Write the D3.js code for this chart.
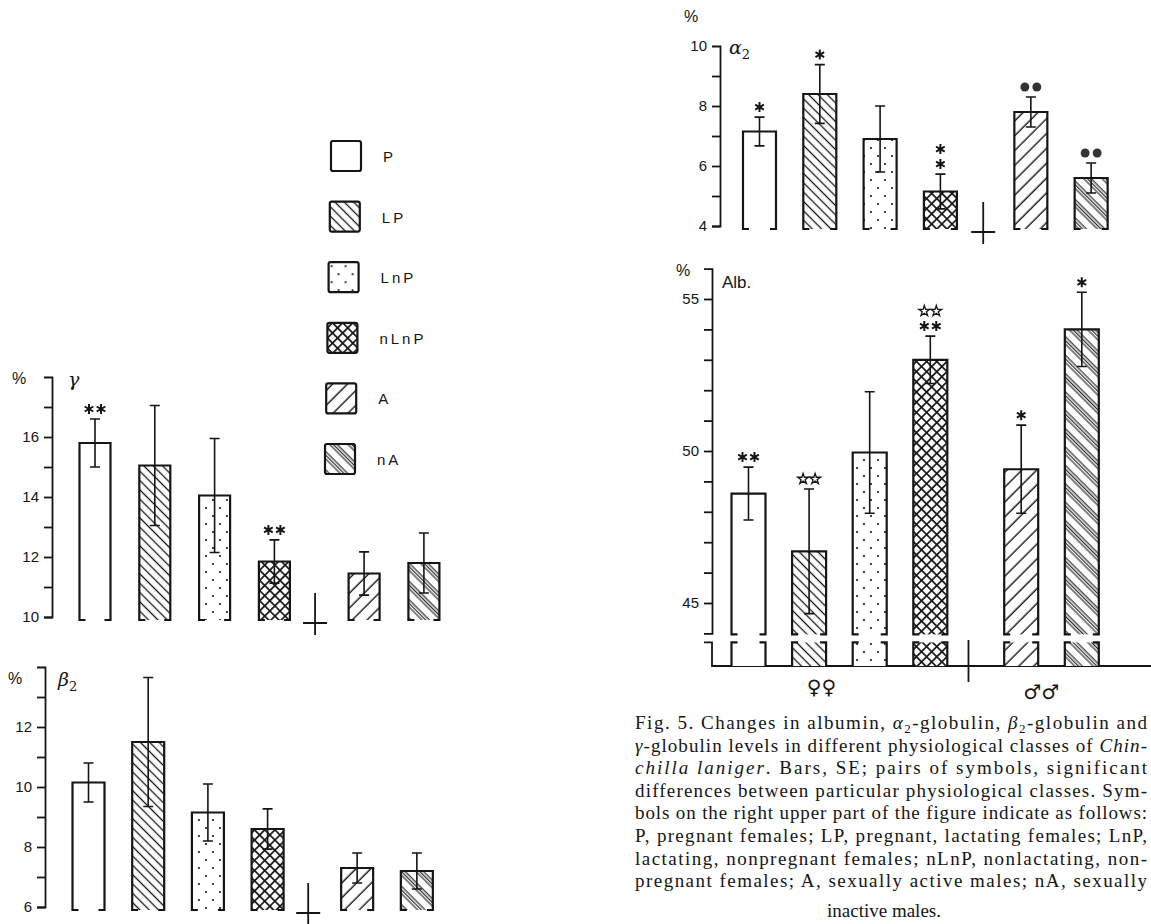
<!DOCTYPE html>
<html>
<head>
<meta charset="utf-8">
<script src="https://cdn.jsdelivr.net/npm/d3@7"></script>
<style>
  html, body { margin: 0; padding: 0; background: #fff; }
  svg { display: block; }
</style>
</head>
<body>
<svg id="fig" width="1151" height="924"></svg>
<script>
/* ---------------------------------------------
 * DATA
 * -------------------------------------------*/
const classes = ['P', 'LP', 'LnP', 'nLnP', 'A', 'nA'];

const gammaMean  = [15.8, 15.05, 14.05, 11.85, 11.45, 11.8];
const gammaSE    = [0.8, 2.0, 1.9, 0.72, 0.72, 1.0];
const gammaSig   = ['**', '', '', '**', '', ''];
const gammaTicks = [10, 12, 14, 16];

const beta2Mean  = [10.15, 11.5, 9.15, 8.6, 7.3, 7.2];
const beta2SE    = [0.65, 2.15, 0.95, 0.67, 0.5, 0.6];
const beta2Sig   = ['', '', '', '', '', ''];
const beta2Ticks = [6, 8, 10, 12];

const alpha2Mean  = [7.15, 8.4, 6.9, 5.15, 7.8, 5.6];
const alpha2SE    = [0.48, 0.98, 1.1, 0.58, 0.5, 0.5];
const alpha2Sig   = ['*', '*', '', '*|*', 'oo', 'oo'];   // '|' = next row up, o = dot
const alpha2Ticks = [4, 6, 8, 10];

const albMean  = [48.6, 46.7, 49.95, 53.0, 49.4, 54.0];
const albSE    = [0.87, 2.05, 2.0, 0.78, 1.45, 1.22];
const albSig   = ['**', 'SS', '', '**|SS', '*', '*'];      // S = open five-point star
const albTicks = [45, 50, 55];

const caption = [
  [['Fig. 5. Changes in albumin, '], ['α', 'i'], ['2', 'sub'], ['-globulin, '], ['β', 'i'], ['2', 'sub'], ['-globulin and']],
  [['γ', 'i'], ['-globulin levels in different physiological classes of '], ['Chin-', 'i']],
  [['chilla laniger', 'i'], ['. Bars, SE; pairs of symbols, significant']],
  [['differences between particular physiological classes. Sym-']],
  [['bols on the right upper part of the figure indicate as follows:']],
  [['P, pregnant females; LP, pregnant, lactating females; LnP,']],
  [['lactating, nonpregnant females; nLnP, nonlactating, non-']],
  [['pregnant females; A, sexually active males; nA, sexually']],
];
const captionLast = 'inactive males.';

/* ---------------------------------------------
 * Setup
 * -------------------------------------------*/
const W = 1151, H = 924;
const INK = '#151515';
const svg = d3.select('#fig');
svg.append('rect').attr('width', W).attr('height', H).attr('fill', '#fff');
const defs = svg.append('defs');

// hatch patterns
function linePattern(id, angle, period, offsets, sw){
  const p = defs.append('pattern').attr('id', id)
    .attr('patternUnits', 'userSpaceOnUse')
    .attr('width', period).attr('height', period)
    .attr('patternTransform', `rotate(${angle})`);
  p.append('rect').attr('width', period).attr('height', period).attr('fill', '#fff');
  offsets.forEach(o => p.append('line')
    .attr('x1', o).attr('x2', o).attr('y1', -1).attr('y2', period + 1)
    .attr('stroke', INK).attr('stroke-width', sw));
}
linePattern('pLP', -45, 6.6, [3.3], 1.3);
linePattern('pA', 45, 10.5, [5], 1.4);
linePattern('pnA', -45, 13, [3, 5.6, 8.2], 1.1);
(function(){
  const p = defs.append('pattern').attr('id', 'pnLnP')
    .attr('patternUnits', 'userSpaceOnUse').attr('width', 7.2).attr('height', 7.2)
    .attr('patternTransform', 'rotate(45)');
  p.append('rect').attr('width', 7.2).attr('height', 7.2).attr('fill', '#fff');
  p.append('line').attr('x1', 3.6).attr('x2', 3.6).attr('y1', -1).attr('y2', 8.2).attr('stroke', INK).attr('stroke-width', 1.7);
  p.append('line').attr('y1', 3.6).attr('y2', 3.6).attr('x1', -1).attr('x2', 8.2).attr('stroke', INK).attr('stroke-width', 1.7);
  const d = defs.append('pattern').attr('id', 'pLnP')
    .attr('patternUnits', 'userSpaceOnUse').attr('width', 14).attr('height', 16);
  d.append('rect').attr('width', 14).attr('height', 16).attr('fill', '#fff');
  [[3, 4], [10, 12]].forEach(c => d.append('circle').attr('cx', c[0]).attr('cy', c[1]).attr('r', 1.1).attr('fill', INK));
})();
const fillOf = d3.scaleOrdinal()
  .domain(classes)
  .range(['#fff', 'url(#pLP)', 'url(#pLnP)', 'url(#pnLnP)', 'url(#pA)', 'url(#pnA)']);

/* ---------------------------------------------
 * Panels (layout only)
 * -------------------------------------------*/
const panels = [
  { mean: gammaMean, se: gammaSE, sig: gammaSig, labels: gammaTicks, domain: [10, 18],
    axisX: 52, range: [617, 377], x0: 95, step: 59.8, barW: 31, sep: 3.68,
    name: 'γ', nameX: 68, nameY: 386, pctX: 12, pctY: 384 },
  { mean: beta2Mean, se: beta2SE, sig: beta2Sig, labels: beta2Ticks, domain: [6, 14],
    axisX: 45, range: [907, 667], x0: 88.5, step: 59.7, barW: 32, sep: 3.68,
    name: 'β', sub: '2', nameX: 58, nameY: 686, pctX: 8, pctY: 684 },
  { mean: alpha2Mean, se: alpha2SE, sig: alpha2Sig, labels: alpha2Ticks, domain: [4, 10],
    axisX: 720, range: [226, 46], x0: 759.5, step: 60.3, barW: 33, sep: 3.71,
    name: 'α', sub: '2', nameX: 729, nameY: 54, pctX: 684, pctY: 22 },
  { mean: albMean, se: albSE, sig: albSig, labels: albTicks, domain: [44, 56],
    axisX: 712, range: [633.4, 268.6], x0: 748.5, step: 60.6, barW: 34, sep: 3.63,
    name: 'Alb.', nameX: 722, nameY: 288, pctX: 676, pctY: 276, broken: true, baseY: 666 },
];

const symAst  = d3.symbol().type(d3.symbolAsterisk).size(70)();
const symStar = d3.symbol().type(d3.symbolStar).size(36)();
const symDot  = d3.symbol().type(d3.symbolCircle).size(62)();

panels.forEach(drawPanel);

function drawPanel(p){
  const g = svg.append('g');
  const y = d3.scaleLinear().domain(p.domain).range(p.range);
  const xc = i => p.x0 + p.step * (i < 4 ? i : i + 0.5);

  // axis
  const ax = g.append('g').attr('transform', `translate(${p.axisX},0)`)
    .call(d3.axisLeft(y)
      .tickValues(d3.range(p.domain[0] + (p.broken ? 1 : 0), p.domain[1]))
      .tickSize(8).tickSizeOuter(8).tickPadding(5)
      .tickFormat(d => p.labels.includes(d) ? d : ''));
  ax.selectAll('path, line').attr('stroke', INK).attr('stroke-width', 1.8);
  ax.selectAll('text').attr('fill', INK)
    .attr('font-family', '"Liberation Sans", Arial, sans-serif').attr('font-size', 15);
  // labelled top tick (alpha panel shows its "10" at the bracket)
  if (p.labels.includes(p.domain[1])){
    g.append('text').attr('x', p.axisX - 13).attr('y', y(p.domain[1]) + 5)
      .attr('text-anchor', 'end').attr('fill', INK)
      .attr('font-family', '"Liberation Sans", Arial, sans-serif').attr('font-size', 15)
      .text(p.domain[1]);
  }

  g.append('text').attr('x', p.pctX).attr('y', p.pctY)
    .attr('font-family', '"Liberation Sans", Arial, sans-serif').attr('font-size', 16)
    .attr('fill', INK).text('%');
  const nm = g.append('text').attr('x', p.nameX).attr('y', p.nameY)
    .attr('font-family', p.name.length > 1 ? '"Liberation Sans", Arial, sans-serif' : '"DejaVu Serif", serif')
    .attr('font-size', p.name.length > 1 ? 17 : 19).attr('fill', INK)
    .attr('font-style', p.name.length > 1 ? 'normal' : 'italic');
  nm.append('tspan').text(p.name);
  if (p.sub) nm.append('tspan').attr('dy', 5).attr('font-size', 13).attr('font-style', 'normal').text(p.sub);

  const bottom = p.broken ? y(p.domain[0]) + 1 : y(p.domain[0]) + 3;
  const foot = 6;

  const bars = g.selectAll('g.bar').data(classes).join('g').attr('class', 'bar');
  bars.append('rect')
    .attr('x', (d, i) => xc(i) - p.barW / 2)
    .attr('y', (d, i) => y(p.mean[i]))
    .attr('width', p.barW)
    .attr('height', (d, i) => bottom - y(p.mean[i]))
    .attr('fill', d => fillOf(d));
  bars.append('path')
    .attr('d', (d, i) => {
      const a = xc(i) - p.barW / 2, b = xc(i) + p.barW / 2, t = y(p.mean[i]);
      return `M${a + foot},${bottom}H${a}V${t}H${b}V${bottom}H${b - foot}`;
    })
    .attr('fill', 'none').attr('stroke', INK).attr('stroke-width', 2.2);

  // error bars (SE)
  const eb = g.selectAll('g.err').data(classes).join('g').attr('class', 'err')
    .attr('stroke', INK).attr('stroke-width', 1.6).attr('fill', 'none');
  eb.append('path').attr('d', (d, i) => {
    const x = xc(i), hi = y(p.mean[i] + p.se[i]), lo = y(p.mean[i] - p.se[i]);
    return `M${x},${hi}V${lo}M${x - 5},${hi}H${x + 5}M${x - 5},${lo}H${x + 5}`;
  });

  // significance symbols
  p.sig.forEach((s, i) => {
    if (!s) return;
    const top = y(p.mean[i] + p.se[i]);
    s.split('|').forEach((row, r) => {
      const cy = top - 10 - r * 15;
      const chars = row.split('');
      chars.forEach((c, k) => {
        const cx = xc(i) + (k - (chars.length - 1) / 2) * 12;
        const sym = g.append('path').attr('transform', `translate(${cx},${cy})`);
        if (c === '*') sym.attr('d', symAst).attr('fill', 'none').attr('stroke', INK).attr('stroke-width', 2);
        else if (c === 'S') sym.attr('d', symStar).attr('fill', '#fff').attr('stroke', INK).attr('stroke-width', 1.3);
        else sym.attr('d', symDot).attr('fill', '#333');
      });
    });
  });

  // separator between female and male groups
  const sx = p.x0 + p.step * p.sep;
  if (!p.broken){
    const base = y(p.domain[0]);
    g.append('path').attr('d', `M${sx - 12},${base + 6}H${sx + 12}M${sx},${base - 24}V${base + 18}`)
      .attr('stroke', INK).attr('stroke-width', 1.8).attr('fill', 'none');
  } else {
    // broken axis: lower stub, baseline and bar stubs
    const s0 = y(p.domain[0]) + 9;
    g.append('path').attr('d', `M${p.axisX - 8},${s0}H${p.axisX}V${p.baseY}H${W}`)
      .attr('stroke', INK).attr('stroke-width', 1.8).attr('fill', 'none');
    const stubs = g.selectAll('g.stub').data(classes).join('g').attr('class', 'stub');
    stubs.append('rect')
      .attr('x', (d, i) => xc(i) - p.barW / 2).attr('y', s0)
      .attr('width', p.barW).attr('height', p.baseY - s0)
      .attr('fill', d => fillOf(d));
    stubs.append('path')
      .attr('d', (d, i) => {
        const a = xc(i) - p.barW / 2, b = xc(i) + p.barW / 2;
        return `M${a + foot},${s0}H${a}V${p.baseY}M${b},${p.baseY}V${s0}H${b - foot}`;
      })
      .attr('fill', 'none').attr('stroke', INK).attr('stroke-width', 2.2);
    g.append('path').attr('d', `M${sx},${p.baseY - 26}V${p.baseY + 16}`)
      .attr('stroke', INK).attr('stroke-width', 1.8);
    g.append('text').attr('x', (xc(0) + xc(3)) / 2 - 18).attr('y', p.baseY + 28)
      .attr('text-anchor', 'middle').attr('font-family', '"DejaVu Sans", sans-serif')
      .attr('font-size', 20).attr('fill', INK).text('♀♀');
    g.append('text').attr('x', (xc(4) + xc(5)) / 2 - 10).attr('y', p.baseY + 33)
      .attr('text-anchor', 'middle').attr('font-family', '"DejaVu Sans", sans-serif')
      .attr('font-size', 20).attr('fill', INK).text('♂♂');
  }
}

/* ---------------------------------------------
 * Legend
 * -------------------------------------------*/
const leg = svg.append('g').selectAll('g').data(classes).join('g')
  .attr('transform', (d, i) => `translate(${331 - i * 1.2},${141 + i * 60.6})`);
leg.append('rect').attr('width', 30).attr('height', 30).attr('rx', 2)
  .attr('fill', d => fillOf(d)).attr('stroke', INK).attr('stroke-width', 2.2);
leg.append('text').attr('x', 52).attr('y', 21)
  .attr('font-family', '"Liberation Sans", Arial, sans-serif').attr('font-size', 15)
  .attr('letter-spacing', 3).attr('fill', INK).text(d => d);

/* ---------------------------------------------
 * Caption (justified block, kept inside the page)
 * -------------------------------------------*/
const cap = svg.append('g').attr('font-family', '"Liberation Serif", "Times New Roman", serif')
  .attr('font-size', 19).attr('fill', INK);
caption.forEach((segs, li) => {
  const t = cap.append('text').attr('x', 635).attr('y', 729 + li * 22.6)
    .attr('textLength', 512).attr('lengthAdjust', 'spacing');
  segs.forEach(([txt, st]) => {
    const ts = t.append('tspan').text(txt);
    if (st === 'i') ts.attr('font-style', 'italic');
    if (st === 'sub') { ts.attr('font-size', 13).attr('dy', 4); }
  });
  // restore baseline after subscripts
  t.selectAll('tspan').each(function(){
    const prev = this.previousSibling;
    if (prev && d3.select(prev).attr('dy') === '4' && d3.select(this).attr('dy') !== '4') d3.select(this).attr('dy', -4);
  });
});
cap.append('text').attr('x', 827).attr('y', 917).text(captionLast);
</script>
</body>
</html>
